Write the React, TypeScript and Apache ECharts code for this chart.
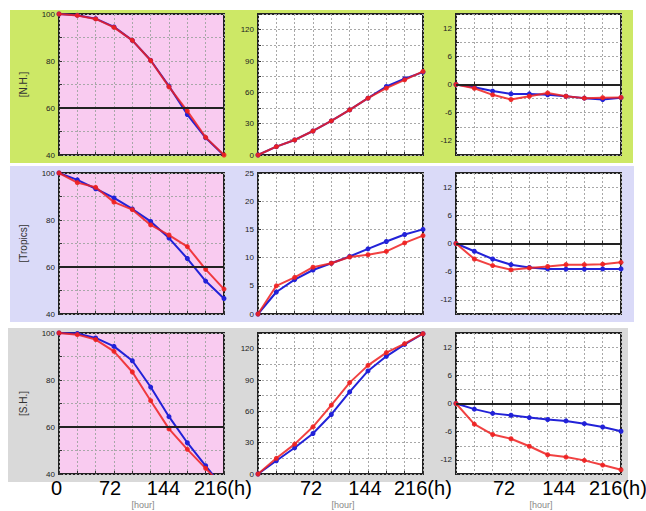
import React, { useEffect, useRef } from "react";
import * as echarts from "echarts";

// forecast hours
const hours = [0, 24, 48, 72, 96, 120, 144, 168, 192, 216];

// Row labels
const rowNames = ["[N.H.]", "[Tropics]", "[S.H.]"];

// N.H.
const nhAccBlue = [100, 99.5, 98, 94.5, 88.8, 80.3, 69.3, 57.2, 47.3, 39.8];
const nhAccRed = [100, 99.4, 97.9, 94.3, 88.8, 80.2, 69.0, 58.7, 47.5, 40.0];
const nhRmseBlue = [0, 8, 14.4, 23, 32.6, 43.2, 54.4, 65.6, 73, 79.4];
const nhRmseRed = [0, 8, 14.4, 23, 32.6, 43.2, 54.4, 64, 72, 80];
const nhBiasBlue = [0, -0.6, -1.4, -2.0, -2.0, -2.2, -2.5, -2.9, -3.2, -2.8];
const nhBiasRed = [0, -0.8, -2.2, -3.2, -2.5, -1.8, -2.5, -2.9, -2.8, -2.75];

// Tropics
const trAccBlue = [100, 97.1, 93.3, 89.4, 84.7, 79.4, 72.3, 63.6, 54, 46.6];
const trAccRed = [100, 95.9, 93.9, 87.6, 84.4, 77.9, 73.6, 68.7, 59, 50.6];
const trRmseBlue = [0, 3.9, 6.1, 7.8, 9.0, 10.2, 11.55, 12.85, 14.1, 15.0];
const trRmseRed = [0, 5.0, 6.5, 8.3, 9.0, 10.1, 10.5, 11.1, 12.6, 13.9];
const trBiasBlue = [0, -1.65, -3.3, -4.5, -5.1, -5.4, -5.45, -5.45, -5.4, -5.4];
const trBiasRed = [0, -3.3, -4.7, -5.6, -5.2, -4.9, -4.5, -4.5, -4.4, -4.0];

// S.H.
const shAccBlue = [100, 99.8, 97.9, 94.3, 88.2, 77, 64.4, 53.3, 43.5, 33.7];
const shAccRed = [100, 99.3, 97.2, 92.2, 83.4, 71.2, 59.2, 50.5, 42.4, 34.3];
const shRmseBlue = [0, 12.7, 25.1, 38.8, 57, 78.6, 98.7, 112.7, 124.1, 134.3];
const shRmseRed = [0, 15, 28.6, 45.2, 65.9, 87.5, 104, 116.2, 124.8, 134.3];
const shBiasBlue = [0, -1.2, -2.1, -2.5, -3.0, -3.4, -3.7, -4.3, -5.0, -5.9];
const shBiasRed = [0, -4.4, -6.6, -7.5, -9.1, -10.9, -11.4, -12.1, -13.1, -14.1];

// x tick labels (overlay)
const bigTickLabels = ["0", "72", "144", "216(h)"];
const hourLabel = "[hour]";

const panelData = [
  [[nhAccBlue, nhAccRed], [nhRmseBlue, nhRmseRed], [nhBiasBlue, nhBiasRed]],
  [[trAccBlue, trAccRed], [trRmseBlue, trRmseRed], [trBiasBlue, trBiasRed]],
  [[shAccBlue, shAccRed], [shRmseBlue, shRmseRed], [shBiasBlue, shBiasRed]],
];

// y-axis settings per column / row: [min, max, gridInterval, labelStep, refLine]
const yAxisSpecs = [
  [[40, 100, 10, 20, 60], [0, 135, 15, 30, null], [-15, 15, 3, 6, 0]],
  [[40, 100, 10, 20, 60], [0, 25, 5, 5, null], [-15, 15, 3, 6, 0]],
  [[40, 100, 10, 20, 60], [0, 135, 15, 30, null], [-15, 15, 3, 6, 0]],
];

const BLUE = "#2222d8";
const RED = "#ee2020";
const bandColors = ["#cde866", "#dadaf8", "#d9d9d9"];
const PINK = "#f9cbf0";

export default function App() {
  const ref = useRef<HTMLDivElement>(null);
  useEffect(() => {
    if (!ref.current) return;
    const chart = echarts.init(ref.current, undefined, { renderer: "svg" });

    const gridLefts = [59, 258, 456];
    const gridTops = [14, 173, 333];
    const gW = 165;
    const gH = 141;
    const font = "Liberation Sans, Arial, sans-serif";

    const grid: any[] = [];
    const xAxis: any[] = [];
    const yAxis: any[] = [];
    const series: any[] = [];

    for (let r = 0; r < 3; r++) {
      for (let c = 0; c < 3; c++) {
        const idx = r * 3 + c;
        grid.push({
          left: gridLefts[c],
          top: gridTops[r],
          width: gW,
          height: gH,
          show: true,
          backgroundColor: c === 0 ? PINK : "#ffffff",
          borderColor: "#222",
          borderWidth: 2,
          containLabel: false,
        });
        xAxis.push({
          type: "value",
          gridIndex: idx,
          min: 0,
          max: 216,
          interval: 24,
          axisLine: { show: false },
          axisTick: { show: true, inside: true, length: 3, lineStyle: { color: "#333" } },
          axisLabel: { show: false },
          splitLine: { show: true, lineStyle: { color: "#a8a8a8", type: [2, 2], width: 1 } },
        });
        const [mn, mx, iv, step, ref0] = yAxisSpecs[r][c] as any[];
        yAxis.push({
          type: "value",
          gridIndex: idx,
          min: mn,
          max: mx,
          interval: iv,
          name: c === 0 ? rowNames[r] : "",
          nameLocation: "middle",
          nameGap: 31,
          nameTextStyle: { fontSize: 10, color: "#333", fontFamily: font },
          axisLine: { show: false },
          axisTick: { show: true, inside: true, length: 3, lineStyle: { color: "#333" } },
          axisLabel: {
            fontSize: 8,
            color: "#222",
            fontFamily: font,
            margin: 4,
            formatter: (v: number) => (Math.abs(v % step) < 1e-9 ? String(v) : ""),
          },
          splitLine: { show: true, lineStyle: { color: "#a8a8a8", type: [2, 2], width: 1 } },
        });
        const [blue, red] = panelData[r][c];
        series.push({
          type: "line",
          xAxisIndex: idx,
          yAxisIndex: idx,
          data: hours.map((h, k) => [h, blue[k]]),
          symbol: "circle",
          symbolSize: 5,
          clip: true,
          lineStyle: { color: BLUE, width: 2 },
          itemStyle: { color: BLUE },
          z: 3,
          markLine:
            ref0 !== null
              ? {
                  silent: true,
                  symbol: ["none", "none"],
                  label: { show: false },
                  lineStyle: { color: "#222", width: 2, type: "solid" },
                  data: [{ yAxis: ref0 }],
                }
              : undefined,
        });
        series.push({
          type: "line",
          xAxisIndex: idx,
          yAxisIndex: idx,
          data: hours.map((h, k) => [h, red[k]]),
          symbol: "circle",
          symbolSize: 5,
          clip: true,
          lineStyle: { color: RED, width: 2, opacity: 0.85 },
          itemStyle: { color: RED, opacity: 0.9 },
          z: 4,
        });
      }
    }

    const graphic: any[] = [
      { type: "rect", z: -10, shape: { x: 10, y: 10, width: 623, height: 153 }, style: { fill: bandColors[0] } },
      { type: "rect", z: -10, shape: { x: 10, y: 166, width: 624, height: 156 }, style: { fill: bandColors[1] } },
      { type: "rect", z: -10, shape: { x: 8, y: 328, width: 620, height: 154 }, style: { fill: bandColors[2] } },
    ];
    // big overlay hour labels (center x for numbers; left x for "216(h)")
    const labelPos = [
      [56.5, 110, 163.5, 194],
      [null, 311, 365, 394],
      [null, 504, 559, 589],
    ];
    const hourCenters = [143, 343, 541];
    for (let c = 0; c < 3; c++) {
      bigTickLabels.forEach((t, k) => {
        const x = labelPos[c][k];
        if (x === null) return;
        graphic.push({
          type: "text",
          z: 100,
          x,
          y: 488,
          style: {
            text: t,
            fontSize: 20,
            fontFamily: font,
            fill: "#000",
            align: k === 3 ? "left" : "center",
            verticalAlign: "middle",
          },
        });
      });
      graphic.push({
        type: "text",
        z: 100,
        x: hourCenters[c],
        y: 505,
        style: {
          text: hourLabel,
          fontSize: 9,
          fontFamily: font,
          fill: "#888",
          align: "center",
          verticalAlign: "middle",
        },
      });
    }

    chart.setOption({
      animation: false,
      backgroundColor: "#ffffff",
      grid,
      xAxis,
      yAxis,
      series,
      graphic,
    });
    return () => chart.dispose();
  }, []);
  return (
    <div
      ref={ref}
      style={{ position: "fixed", left: 0, top: 0, width: 646, height: 511 }}
    />
  );
}
